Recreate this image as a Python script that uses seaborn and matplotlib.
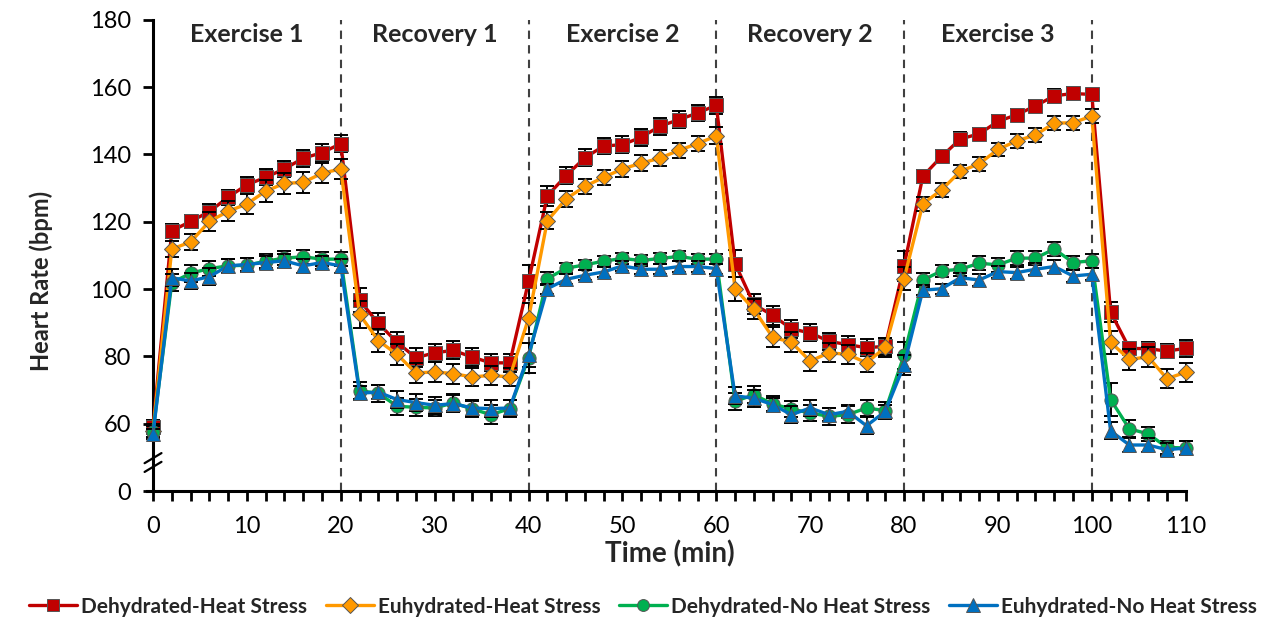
import numpy as np
import pandas as pd
import matplotlib
matplotlib.use("Agg")
import matplotlib.pyplot as plt
import seaborn as sns
from matplotlib.lines import Line2D

time_min = list(range(0, 112, 2))

dehydrated_heat = [59.0, 117.3, 120.1, 123.0, 127.3, 131.0, 133.2, 135.7, 138.9, 140.5, 143.2,
                   96.7, 89.8, 84.2, 79.6, 81.1, 81.8, 79.8, 78.1, 78.1, 102.3,
                   127.7, 133.7, 139.0, 142.5, 142.9, 145.1, 148.4, 150.3, 152.3, 154.6,
                   107.6, 95.5, 92.2, 88.2, 87.0, 84.5, 83.5, 82.6, 83.0, 106.9,
                   133.5, 139.4, 144.6, 146.1, 149.8, 151.8, 154.4, 157.4, 158.1, 157.8,
                   93.2, 82.4, 82.3, 81.6, 82.4]
euhydrated_heat = [58.0, 111.9, 114.0, 120.1, 123.1, 125.3, 129.1, 131.4, 131.7, 134.4, 135.7,
                   92.5, 84.7, 80.6, 75.1, 75.4, 74.9, 73.9, 74.4, 73.9, 91.3,
                   120.3, 126.8, 130.5, 133.2, 135.7, 137.4, 138.9, 141.2, 143.2, 145.5,
                   100.1, 94.0, 85.7, 84.2, 78.6, 81.1, 80.6, 78.1, 82.7, 103.1,
                   125.3, 129.5, 135.0, 137.2, 141.5, 144.0, 145.8, 149.3, 149.4, 151.4,
                   84.2, 79.1, 79.9, 73.4, 75.3]
dehydrated_noheat = [57.7, 101.9, 104.7, 106.1, 106.9, 107.1, 108.3, 109.2, 109.6, 108.9, 108.9,
                     69.8, 69.1, 65.2, 64.9, 64.7, 66.2, 64.4, 62.7, 64.5, 79.6,
                     103.1, 106.2, 107.2, 108.3, 109.1, 108.5, 109.1, 109.7, 108.9, 108.9,
                     66.7, 68.6, 65.9, 64.4, 63.2, 62.2, 62.7, 64.7, 63.9, 80.4,
                     102.7, 105.4, 105.9, 107.7, 107.2, 109.2, 109.2, 111.9, 107.9, 108.4,
                     67.2, 58.5, 57.0, 53.0, 52.8]
euhydrated_noheat = [57.0, 103.4, 102.4, 103.7, 106.9, 107.3, 107.9, 108.4, 106.9, 107.9, 106.9,
                     69.1, 69.4, 67.2, 66.3, 65.5, 66.0, 64.7, 64.5, 64.7, 80.4,
                     100.1, 102.9, 104.1, 105.1, 106.9, 105.9, 105.9, 106.7, 106.7, 106.1,
                     68.3, 67.6, 65.7, 62.7, 64.7, 62.7, 63.7, 59.4, 63.7, 77.4,
                     99.7, 100.1, 103.4, 102.7, 105.2, 104.9, 105.9, 106.7, 103.9, 104.4,
                     57.9, 53.7, 53.7, 52.3, 52.8]

err_dh = [2.0, 2.0, 2.0, 2.2, 2.2, 2.3, 2.4, 2.4, 2.5, 2.5, 2.6,
          3.5, 3.0, 3.0, 2.8, 2.6, 2.7, 2.7, 2.5, 2.7, 5.0,
          3.0, 2.5, 2.5, 2.5, 2.5, 2.5, 2.5, 2.5, 2.5, 2.6,
          4.0, 3.0, 2.8, 2.6, 2.5, 2.5, 2.5, 2.5, 2.5, 4.5,
          2.0, 2.0, 2.0, 1.8, 1.8, 1.8, 1.8, 2.0, 1.8, 1.5,
          3.0, 2.0, 2.0, 2.0, 2.5]
err_eh = [2.0, 2.5, 2.5, 2.8, 3.0, 3.0, 3.2, 3.2, 3.2, 3.0, 3.0,
          4.0, 3.5, 3.2, 3.0, 3.0, 3.0, 2.8, 2.8, 2.8, 4.5,
          2.5, 2.3, 2.3, 2.3, 2.3, 2.3, 2.3, 2.3, 2.3, 2.5,
          3.5, 3.0, 3.0, 3.0, 2.8, 2.8, 2.8, 2.8, 2.8, 3.5,
          2.0, 2.0, 2.0, 2.0, 2.0, 2.0, 2.0, 2.0, 2.0, 2.0,
          3.5, 3.0, 3.0, 2.8, 2.8]
err_dn = [1.5, 2.5, 2.5, 2.2, 2.0, 2.0, 2.0, 2.0, 2.0, 2.0, 2.0,
          2.5, 2.5, 2.5, 2.5, 2.5, 2.5, 2.5, 2.8, 2.5, 4.5,
          2.0, 1.5, 1.5, 1.5, 1.5, 1.5, 1.5, 1.5, 1.5, 1.5,
          2.5, 2.5, 2.5, 2.5, 2.5, 2.5, 2.5, 2.5, 2.5, 4.0,
          2.0, 1.8, 2.0, 2.0, 2.0, 2.0, 2.0, 2.0, 2.0, 2.0,
          5.0, 2.5, 2.0, 2.0, 2.0]
err_en = [1.5, 2.5, 2.5, 2.5, 2.0, 2.0, 2.0, 2.0, 2.0, 2.0, 2.0,
          2.0, 2.0, 2.5, 2.5, 2.5, 2.5, 2.5, 2.5, 2.5, 3.5,
          1.5, 1.5, 1.5, 1.5, 1.5, 1.5, 1.5, 1.5, 1.5, 1.5,
          2.5, 2.5, 2.0, 2.5, 2.5, 2.0, 2.0, 2.5, 2.0, 3.0,
          1.5, 1.5, 1.5, 1.8, 1.8, 1.8, 1.8, 1.8, 1.8, 1.8,
          2.5, 2.0, 2.0, 2.0, 2.0]

series_names = ["Dehydrated-Heat Stress", "Euhydrated-Heat Stress",
                "Dehydrated-No Heat Stress", "Euhydrated-No Heat Stress"]
series_values = [dehydrated_heat, euhydrated_heat, dehydrated_noheat, euhydrated_noheat]
series_errors = [err_dh, err_eh, err_dn, err_en]
colors = ["#C00000", "#FF9900", "#00B050", "#0070C0"]
markers = ["s", "D", "o", "^"]
marker_sizes = [9.5, 8.5, 9.5, 10.5]

phase_labels = ["Exercise 1", "Recovery 1", "Exercise 2", "Recovery 2", "Exercise 3"]
phase_centers = [10, 30, 50, 70, 90]
phase_bounds = [20, 40, 60, 80, 100]

ytick_pos = [40, 60, 80, 100, 120, 140, 160, 180]
ytick_labels = ["0", "60", "80", "100", "120", "140", "160", "180"]

sns.set_theme(style="white")
plt.rcParams["font.family"] = ["Lato", "DejaVu Sans"]

records = []
for name, vals in zip(series_names, series_values):
    for t, v in zip(time_min, vals):
        records.append({"Time": t, "HR": v, "Group": name})
df = pd.DataFrame(records)

fig = plt.figure(figsize=(12.86, 6.17), dpi=100)
ax = fig.add_axes([0.119, 0.204, 0.803, 0.764])

for b in phase_bounds:
    ax.axvline(b, color="#404040", lw=1.5, ls=(0, (4, 3)), zorder=1)

for i, (name, vals, errs, c, m, ms) in enumerate(zip(series_names, series_values, series_errors,
                                                     colors, markers, marker_sizes)):
    ax.errorbar(time_min, vals, yerr=errs, fmt="none", ecolor="black", elinewidth=1.4,
                capsize=5, capthick=1.4, zorder=2 + 2 * i, clip_on=False)
    sub = df[df["Group"] == name]
    sns.lineplot(data=sub, x="Time", y="HR", ax=ax, color=c, lw=2.4, marker=m,
                 markersize=ms, markeredgecolor="#555555", markeredgewidth=0.7,
                 label=name, zorder=3 + 2 * i, clip_on=False, legend=False)

ax.set_xlim(0, 110)
ax.set_ylim(40, 180)
ax.set_xticks(list(range(0, 111, 10)))
ax.set_xticks(list(range(0, 111, 2)), minor=True)
ax.set_yticks(ytick_pos)
ax.set_yticklabels(ytick_labels)
ax.tick_params(axis="both", which="both", direction="out", length=7, width=2, color="black",
               labelsize=17, labelcolor="black")
ax.tick_params(axis="x", which="both", bottom=True, pad=11)
ax.tick_params(axis="y", which="major", left=True, pad=9)
for s in ["top", "right"]:
    ax.spines[s].set_visible(False)
for s in ["left", "bottom"]:
    ax.spines[s].set_linewidth(2.2)
    ax.spines[s].set_color("black")
ax.spines["bottom"].set_bounds(-0.6, 110)

ax.set_xlabel("Time (min)", fontsize=20, fontweight="bold", labelpad=2)
ax.set_ylabel("Heart Rate (bpm)", fontsize=17, fontweight="bold")
ax.yaxis.set_label_coords(-0.097, 0.446)

for lab, xc in zip(phase_labels, phase_centers):
    ax.text(xc, 175.5, lab, ha="center", va="center", fontsize=18, fontweight="bold")

# axis break marks
for dy in (-1.3, 1.3):
    ax.plot([-0.9, 0.9], [48.5 + dy - 1.5, 48.5 + dy + 1.5], color="black", lw=1.6,
            clip_on=False, transform=ax.transData, zorder=20)

handles = [Line2D([0], [0], color=c, lw=2.4, marker=m, markersize=ms * 0.9,
                  markeredgecolor="#555555", markeredgewidth=0.7)
           for c, m, ms in zip(colors, markers, marker_sizes)]
leg = fig.legend(handles, series_names, loc="lower center", bbox_to_anchor=(0.5, -0.03),
                 ncol=4, frameon=False, handlelength=2.3, columnspacing=0.9, handletextpad=0.2,
                 prop={"size": 15.0, "weight": "bold"})

fig.savefig("out.png", dpi=100)
